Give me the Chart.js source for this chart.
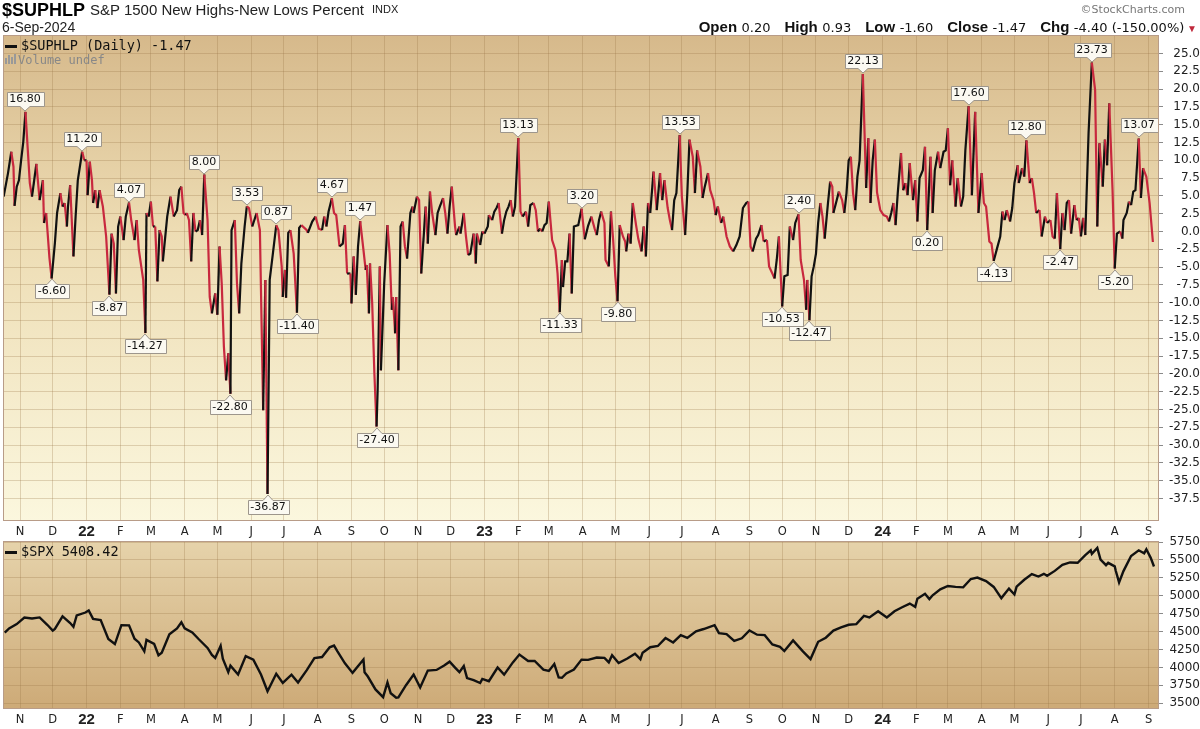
<!DOCTYPE html>
<html>
<head>
<meta charset="utf-8">
<script src="https://cdn.jsdelivr.net/npm/chart.js"></script>
<style>
  body { margin:0; background:#fff; width:1200px; height:729px; overflow:hidden; position:relative; font-family:'Liberation Sans', Arial, sans-serif; }
  .abs { position:absolute; white-space:nowrap; }
  canvas { position:absolute; left:0; }
  .mono { font-family:'DejaVu Sans Mono', monospace; font-size:13.5px; line-height:14px; color:#111; }
  .b { font-weight:bold; font-size:15px; font-family:'Liberation Sans', Arial, sans-serif; }
  .v { font-size:13px; font-family:'DejaVu Sans', sans-serif; }
  #ohlc { right:3px; top:19px; line-height:16px; color:#111; }
  #ohlc > span { margin-left:14px; }
</style>
</head>
<body>
<canvas id="top" width="1200" height="543" style="top:0"></canvas>
<canvas id="bot" width="1200" height="202" style="top:527px"></canvas>

<div class="abs" style="left:2px;top:1px;font-weight:bold;font-size:18px;line-height:18px;">$SUPHLP</div>
<div class="abs" style="left:90px;top:2px;font-size:15px;line-height:15px;color:#222;">S&amp;P 1500 New Highs-New Lows Percent</div>
<div class="abs" style="left:372px;top:4px;font-size:11px;line-height:11px;color:#222;">INDX</div>
<div class="abs" style="left:2px;top:20px;font-size:14px;line-height:14px;color:#222;">6-Sep-2024</div>
<div class="abs" style="right:15px;top:4px;font-family:'DejaVu Sans';font-size:11px;line-height:12px;color:#777;">&copy;StockCharts.com</div>
<div class="abs" id="ohlc"><span><span class="b">Open</span> <span class="v">0.20</span></span><span><span class="b">High</span> <span class="v">0.93</span></span><span><span class="b">Low</span> <span class="v">-1.60</span></span><span><span class="b">Close</span> <span class="v">-1.47</span></span><span><span class="b">Chg</span> <span class="v">-4.40 (-150.00%)</span><span style="color:#c0283c;font-size:10px;"> &#9660;</span></span></div>

<div class="abs mono" style="left:5px;top:38px;"><span style="display:inline-block;width:12px;height:3px;background:#111;vertical-align:middle;margin-right:4px;"></span>$SUPHLP (Daily) -1.47</div>
<div class="abs mono" style="left:5px;top:53px;font-size:12px;color:#888;"><span style="display:inline-block;width:2px;height:6px;background:#999;margin-right:1px;"></span><span style="display:inline-block;width:2px;height:9px;background:#999;margin-right:1px;"></span><span style="display:inline-block;width:2px;height:7px;background:#999;margin-right:1px;"></span><span style="display:inline-block;width:2px;height:10px;background:#999;margin-right:2px;"></span>Volume undef</div>
<div class="abs mono" style="left:5px;top:544px;"><span style="display:inline-block;width:12px;height:3px;background:#111;vertical-align:middle;margin-right:4px;"></span>$SPX 5408.42</div>

<script>
// x values are calendar days counted from 1 Nov 2021
const hlDay = [
  -15,-11,-8,-6,-5,-3,-1,1,3,5,9,11,15,18,21,22,24,27,29,32,34,37,39,41,43,44,46,49,51,53,
  57,59,61,62,64,66,67,69,71,73,76,79,82,84,86,88,90,92,95,97,100,102,105,107,109,113,115,116,118,120,
  122,124,126,128,130,131,135,138,141,144,146,148,150,152,153,155,157,159,161,163,165,167,169,172,174,176,179,181,183,185,
  187,189,191,193,194,197,199,201,203,206,208,210,213,217,220,223,225,227,229,232,235,237,240,241,243,244,246,248,251,254,
  256,258,263,264,268,271,274,277,279,281,283,286,288,290,293,296,298,300,303,304,306,308,310,312,315,317,318,320,321,323,
  325,327,328,330,331,334,337,339,341,342,344,345,347,349,351,353,355,358,360,361,364,366,368,370,372,374,376,378,381,383,
  385,388,390,392,394,396,399,400,403,404,407,409,411,413,416,418,419,422,424,426,429,430,433,435,437,439,442,444,446,448,
  450,452,454,457,459,461,464,466,468,471,473,475,477,479,481,483,485,488,491,493,495,497,498,500,502,504,506,508,512,515,
  518,521,524,527,529,531,533,536,537,540,542,544,546,548,550,553,555,556,558,560,562,565,567,570,572,574,576,578,581,584,
  587,589,591,594,596,598,600,602,605,607,610,612,614,617,619,621,624,626,628,631,633,636,638,640,643,645,648,651,654,657,
  660,663,666,668,670,672,675,677,680,682,685,687,690,692,694,696,699,701,704,706,709,711,714,716,719,721,722,724,726,728,
  730,732,734,736,738,741,743,745,746,749,751,754,756,758,760,762,764,766,768,770,773,776,778,780,782,784,786,789,792,795,
  797,799,801,803,805,808,810,812,814,816,819,821,823,825,828,830,832,835,837,839,842,844,847,849,851,853,855,858,860,863,
  865,867,870,873,876,879,882,884,886,889,891,893,896,899,901,903,905,908,910,912,915,916,919,921,923,926,928,930,932,935,
  937,940,942,945,947,949,951,954,956,958,960,962,964,967,969,971,973,975,977,980,983,986,988,990,993,995,997,999,1002,1004,
  1006,1009,1011,1012,1015,1017,1019,1021,1023,1026,1028,1030,1033,1036,1039
];
const hlVal = [
  4.9,8.2,11.2,9.1,3.6,6.3,7.2,10.0,12.6,16.80,6.8,4.9,9.5,4.4,7.2,1.2,2.6,-3.7,-6.60,-1.6,2.6,5.4,3.5,4.0,0.7,3.5,6.5,-3.5,2.1,7.2,
  11.20,10.0,10.0,5.1,9.8,7.2,4.0,5.8,3.3,5.8,3.5,-0.7,-8.87,-0.3,-1.7,-8.7,0.7,2.1,-1.2,2.1,4.07,1.6,-1.2,1.6,-2.6,-6.8,-14.27,2.6,2.1,4.2,
  0.7,0.7,-7.0,0.2,-0.7,-4.2,2.1,4.9,2.1,3.0,5.8,6.3,2.6,2.3,2.6,1.6,-4.2,2.6,0.0,0.2,1.6,-0.5,8.00,1.6,-9.2,-11.5,-8.7,-11.7,-2.1,-7.3,
  -16.2,-20.9,-17.1,-22.80,0.2,1.6,-7.3,-11.5,-4.5,0.7,3.53,3.3,0.7,2.6,0.2,-25.1,-6.8,-36.87,-6.8,-3.0,0.87,0.2,-4.9,-9.2,-5.4,-9.3,-0.2,0.2,-3.1,-11.40,
  0.5,0.9,0.2,-0.2,1.4,2.1,0.4,0.2,2.1,0.7,2.8,4.67,2.6,2.3,-2.1,-1.7,0.9,-5.9,-5.9,-10.1,-3.5,-8.9,-2.1,1.47,-2.6,-5.4,-4.7,-11.5,-4.5,-10.1,
  -19.9,-27.40,-22.3,-4.9,-19.5,-7.3,0.9,-3.1,-11.0,-9.2,-14.3,-9.2,-19.5,0.7,1.4,-2.1,-3.8,2.6,3.5,2.6,4.9,4.4,-5.9,-1.2,3.5,-1.7,5.6,2.6,-0.5,2.6,
  3.5,4.7,2.6,-0.3,3.5,6.3,0.7,-0.5,0.7,-0.3,2.6,-0.7,-3.3,-3.1,-0.3,-4.5,-0.3,-1.9,0.0,-0.3,0.7,2.3,1.6,2.8,3.3,4.0,-0.3,1.6,2.8,3.5,
  4.4,2.1,3.5,13.13,2.8,2.1,2.8,0.7,3.7,4.0,3.0,0.0,0.4,0.0,0.9,1.2,4.2,-1.2,-2.6,-5.9,-11.33,-4.0,-7.8,-4.2,-4.2,-0.3,-8.7,0.7,0.9,3.20,
  -1.1,0.8,2.1,0.4,-0.5,1.6,2.8,1.2,-4.0,-4.9,2.8,-1.2,-6.3,-9.80,0.9,-0.7,-1.4,-2.8,-0.3,-1.7,4.0,0.9,-1.0,-2.8,0.7,-3.5,4.0,2.6,8.4,3.0,
  8.2,4.4,7.2,3.3,1.6,0.2,4.4,5.4,13.53,4.9,-0.5,5.4,12.9,10.5,5.4,11.4,9.1,4.7,6.3,8.2,5.8,4.4,2.3,3.5,1.2,2.1,-0.7,-2.1,-2.8,-1.9,
  -0.7,3.3,4.0,4.2,-2.1,-2.8,-1.0,-0.5,0.9,-1.4,-1.2,-4.9,-5.9,-6.6,-4.0,-0.7,-10.53,-6.3,-6.1,0.7,-1.2,1.2,2.40,-4.0,-6.8,-11.0,-6.8,-12.47,-6.3,-4.9,
  -3.1,1.2,4.0,2.1,-1.0,4.0,7.0,6.3,2.6,4.4,5.6,4.4,2.6,5.4,10.0,10.5,5.4,3.0,7.7,10.0,22.13,6.1,13.1,4.0,10.0,12.9,5.5,3.0,2.3,2.1,
  1.4,2.6,4.0,0.9,5.4,11.0,5.8,6.8,5.1,9.6,4.4,7.2,1.4,7.5,8.6,11.9,0.20,10.5,2.6,8.6,11.2,8.9,11.2,11.4,14.5,6.5,10.0,3.5,7.5,3.5,
  4.9,11.4,17.60,5.1,16.8,2.6,8.2,4.0,3.5,-1.4,-1.7,-4.13,-2.4,-0.7,2.8,1.6,3.0,1.4,3.3,6.8,9.3,6.8,8.9,7.7,12.80,6.8,7.5,5.4,2.6,3.0,
  -0.7,2.1,1.2,1.6,-0.7,-1.0,5.4,-2.47,2.6,0.2,4.0,4.4,-0.3,3.7,1.6,1.9,-0.7,1.9,-0.5,13.8,23.73,19.9,0.7,12.4,6.3,12.9,9.3,18.0,5.8,-5.20,
  -0.3,0.0,-1.0,1.6,2.6,4.2,3.7,5.6,5.8,13.07,4.7,8.9,7.7,4.0,-1.47
];
// days of the labelled highs and lows
const calloutDays = [5,29,57,82,100,115,169,193,208,227,235,254,286,312,327,457,495,515,548,605,699,714,724,773,832,870,893,923,954,983,1004,1026];
const hlTicks = [25,22.5,20,17.5,15,12.5,10,7.5,5,2.5,0,-2.5,-5,-7.5,-10,-12.5,-15,-17.5,-20,-22.5,-25,-27.5,-30,-32.5,-35,-37.5];

const spxDate = [
  '2021-10-18','2021-10-22','2021-10-29','2021-11-05','2021-11-12','2021-11-19','2021-11-26','2021-12-01','2021-12-03','2021-12-10','2021-12-17','2021-12-20','2021-12-23','2021-12-31',
  '2022-01-03','2022-01-07','2022-01-14','2022-01-21','2022-01-27','2022-02-02','2022-02-09','2022-02-14','2022-02-18','2022-02-23','2022-02-25','2022-03-04','2022-03-08','2022-03-11',
  '2022-03-18','2022-03-25','2022-03-29','2022-04-01','2022-04-08','2022-04-14','2022-04-22','2022-04-26','2022-04-29','2022-05-04','2022-05-06','2022-05-11','2022-05-13','2022-05-20',
  '2022-05-27','2022-06-03','2022-06-10','2022-06-16','2022-06-24','2022-06-30','2022-07-08','2022-07-14','2022-07-22','2022-07-29','2022-08-05','2022-08-12','2022-08-16','2022-08-19',
  '2022-08-26','2022-09-02','2022-09-12','2022-09-13','2022-09-16','2022-09-23','2022-09-30','2022-10-04','2022-10-07','2022-10-12','2022-10-14','2022-10-21','2022-10-28','2022-11-03',
  '2022-11-10','2022-11-18','2022-11-25','2022-11-30','2022-12-05','2022-12-09','2022-12-13','2022-12-16','2022-12-22','2022-12-28','2022-12-30',
  '2023-01-05','2023-01-13','2023-01-19','2023-01-27','2023-02-02','2023-02-10','2023-02-16','2023-02-24','2023-03-01','2023-03-06','2023-03-10','2023-03-13','2023-03-17','2023-03-24',
  '2023-03-31','2023-04-06','2023-04-14','2023-04-21','2023-04-25','2023-04-28','2023-05-04','2023-05-12','2023-05-19','2023-05-24','2023-05-26','2023-06-02','2023-06-09','2023-06-16',
  '2023-06-23','2023-06-30','2023-07-06','2023-07-14','2023-07-21','2023-07-31','2023-08-04','2023-08-11','2023-08-18','2023-08-25','2023-09-01','2023-09-08','2023-09-15','2023-09-22',
  '2023-09-29','2023-10-03','2023-10-11','2023-10-20','2023-10-27','2023-11-03','2023-11-10','2023-11-17','2023-11-24','2023-12-01','2023-12-08','2023-12-15','2023-12-20','2023-12-28',
  '2024-01-05','2024-01-12','2024-01-19','2024-01-26','2024-01-31','2024-02-02','2024-02-09','2024-02-13','2024-02-16','2024-02-23','2024-03-01','2024-03-08','2024-03-15','2024-03-22',
  '2024-03-28','2024-04-05','2024-04-12','2024-04-19','2024-04-26','2024-05-01','2024-05-03','2024-05-10','2024-05-17','2024-05-23','2024-05-28','2024-05-31','2024-06-07','2024-06-14',
  '2024-06-21','2024-06-28','2024-07-05','2024-07-10','2024-07-11','2024-07-16','2024-07-19','2024-07-24','2024-07-26','2024-08-01','2024-08-02','2024-08-05','2024-08-09','2024-08-16',
  '2024-08-23','2024-08-28','2024-08-30','2024-09-03','2024-09-06'
];
const spxVal = [
  4486,4545,4605,4697,4682,4698,4595,4513,4538,4712,4620,4568,4726,4766,
  4796,4677,4662,4398,4326,4589,4587,4401,4349,4225,4385,4329,4170,4204,
  4463,4543,4631,4546,4488,4393,4272,4175,4132,4301,4123,3935,4024,3901,
  4158,4109,3901,3667,3912,3785,3899,3790,3962,4130,4145,4280,4305,4228,
  4058,3924,4110,3932,3873,3693,3586,3791,3640,3577,3583,3752,3901,3720,
  3956,3965,4026,4080,3998,3934,4019,3852,3822,3783,3840,
  3808,3999,3899,4070,4179,4090,4090,3970,3951,4048,3862,3856,3917,3971,
  4109,4105,4138,4133,4071,4169,4061,4124,4192,4115,4205,4282,4299,4410,
  4348,4450,4411,4505,4536,4589,4478,4464,4370,4406,4516,4457,4450,4320,
  4288,4229,4377,4224,4117,4358,4415,4514,4559,4595,4604,4719,4698,4783,
  4697,4784,4840,4891,4846,4959,5027,4953,5006,5089,5137,5124,5117,5234,
  5254,5204,5123,4967,5100,5018,5128,5223,5303,5268,5306,5278,5347,5432,
  5465,5460,5567,5633,5585,5667,5505,5427,5459,5410,5346,5186,5344,5554,
  5634,5592,5648,5529,5408
];
const spxTicks = [5750,5500,5250,5000,4750,4500,4250,4000,3750,3500];

const START = Date.UTC(2021, 10, 1);
const dayOf = s => (Date.parse(s) - START) / 864e5;

const monthDays = [], monthLabels = [];
for (let i = 0; i <= 34; i++) {
  const t = new Date(Date.UTC(2021, 10 + i, 1));
  monthDays.push((t.getTime() - START) / 864e5);
  monthLabels.push(t.getUTCMonth() === 0 ? String(t.getUTCFullYear()).slice(2) : 'JFMAMJJASOND'[t.getUTCMonth()]);
}

const X_MIN = -15.6, X_MAX = 1044.6;
const GRID = 'rgba(150,115,70,0.28)';
const UP = '#111', DOWN = '#c8283e';

const panel = {
  id: 'panel',
  beforeDraw(chart, args, opts) {
    const {ctx, chartArea: a} = chart;
    const g = ctx.createLinearGradient(0, a.top, 0, a.bottom);
    opts.stops.forEach(s => g.addColorStop(s[0], s[1]));
    ctx.save();
    ctx.fillStyle = g;
    ctx.fillRect(a.left, a.top, a.right - a.left, a.bottom - a.top);
    ctx.restore();
  },
  afterDraw(chart) {
    const {ctx, chartArea: a} = chart;
    ctx.save();
    ctx.strokeStyle = '#b89c88';
    ctx.lineWidth = 1;
    ctx.strokeRect(Math.round(a.left) + 0.5, Math.round(a.top) + 0.5, Math.round(a.right - a.left) - 1, Math.round(a.bottom - a.top) - 1);
    ctx.restore();
  }
};

const callouts = {
  id: 'callouts',
  afterDatasetsDraw(chart, args, opts) {
    const ctx = chart.ctx;
    const meta = chart.getDatasetMeta(0);
    ctx.save();
    ctx.font = '11px "DejaVu Sans"';
    ctx.lineWidth = 1;
    opts.days.forEach(d => {
      const i = hlDay.indexOf(d);
      if (i < 0) return;
      const pt = meta.data[i];
      const v = hlVal[i];
      const up = i === 0 || v >= hlVal[i - 1];
      const text = v.toFixed(2);
      const x = Math.round(pt.x), y = Math.round(pt.y);
      const w = Math.round(ctx.measureText(text).width) + 6, h = 14;
      const bx = Math.round(x - w / 2) + 0.5;
      const by = up ? y - 6 - h + 0.5 : y + 6 + 0.5;
      ctx.beginPath();
      if (up) {
        ctx.moveTo(bx, by); ctx.lineTo(bx + w, by); ctx.lineTo(bx + w, by + h);
        ctx.lineTo(x + 5, by + h); ctx.lineTo(x, y - 1); ctx.lineTo(x - 5, by + h);
        ctx.lineTo(bx, by + h);
      } else {
        ctx.moveTo(bx, by); ctx.lineTo(x - 5, by); ctx.lineTo(x, y + 1); ctx.lineTo(x + 5, by);
        ctx.lineTo(bx + w, by); ctx.lineTo(bx + w, by + h); ctx.lineTo(bx, by + h);
      }
      ctx.closePath();
      ctx.fillStyle = '#fbf9f1';
      ctx.strokeStyle = '#9d968c';
      ctx.fill();
      ctx.stroke();
      ctx.fillStyle = '#111';
      ctx.textAlign = 'center';
      ctx.textBaseline = 'middle';
      ctx.fillText(text, x, by + h / 2);
    });
    ctx.restore();
  }
};

function xAxis(height) {
  return {
    type: 'linear', min: X_MIN, max: X_MAX,
    afterBuildTicks: s => { s.ticks = monthDays.map(v => ({ value: v })); },
    afterFit: s => { s.height = height; },
    grid: { color: GRID, drawTicks: false },
    border: { display: false },
    ticks: {
      padding: 3, color: '#222', autoSkip: false, maxRotation: 0,
      callback: (v, i) => monthLabels[i],
      font: c => monthLabels[c.index] && monthLabels[c.index].length === 2
        ? { family: 'Liberation Sans', size: 15, weight: 'bold', lineHeight: '16px' }
        : { family: 'DejaVu Sans', size: 11.5, lineHeight: '16px' }
    }
  };
}

function yAxis(min, max, ticks, fmt) {
  return {
    position: 'right', min, max,
    afterBuildTicks: s => { s.ticks = ticks.map(v => ({ value: v })); },
    afterFit: s => { s.width = 41; },
    grid: { color: GRID, tickColor: '#8a8a8a', tickLength: 4 },
    border: { display: false },
    ticks: { padding: 1, crossAlign: 'far', color: '#222', font: { family: 'DejaVu Sans', size: 12 }, callback: fmt }
  };
}

new Chart(document.getElementById('top'), {
  type: 'line',
  data: {
    datasets: [{
      data: hlDay.map((d, i) => ({ x: d, y: hlVal[i] })),
      borderWidth: 2.2, pointRadius: 0, tension: 0, borderColor: UP,
      segment: { borderColor: c => c.p1.parsed.y >= c.p0.parsed.y ? UP : DOWN }
    }]
  },
  options: {
    responsive: false, animation: false, events: [],
    layout: { padding: { left: 3, top: 35, right: 0, bottom: 0 } },
    plugins: {
      legend: { display: false }, tooltip: { enabled: false },
      panel: { stops: [[0, '#d6b98b'], [0.4, '#eddcb3'], [1, '#fbf7de']] },
      callouts: { days: calloutDays }
    },
    scales: {
      x: xAxis(22),
      y: yAxis(-40.66, 27.6, hlTicks, v => v.toFixed(1))
    }
  },
  plugins: [panel, callouts]
});

new Chart(document.getElementById('bot'), {
  type: 'line',
  data: {
    datasets: [{
      data: spxDate.map((d, i) => ({ x: dayOf(d), y: spxVal[i] })),
      borderWidth: 2.4, pointRadius: 0, tension: 0, borderColor: '#111'
    }]
  },
  options: {
    responsive: false, animation: false, events: [],
    layout: { padding: { left: 3, top: 14, right: 0, bottom: 0 } },
    plugins: {
      legend: { display: false }, tooltip: { enabled: false },
      panel: { stops: [[0, '#e6d3ab'], [1, '#cdaa77']] }
    },
    scales: {
      x: xAxis(20),
      y: yAxis(3420, 5764, spxTicks, v => String(v))
    }
  },
  plugins: [panel]
});
</script>
</body>
</html>
